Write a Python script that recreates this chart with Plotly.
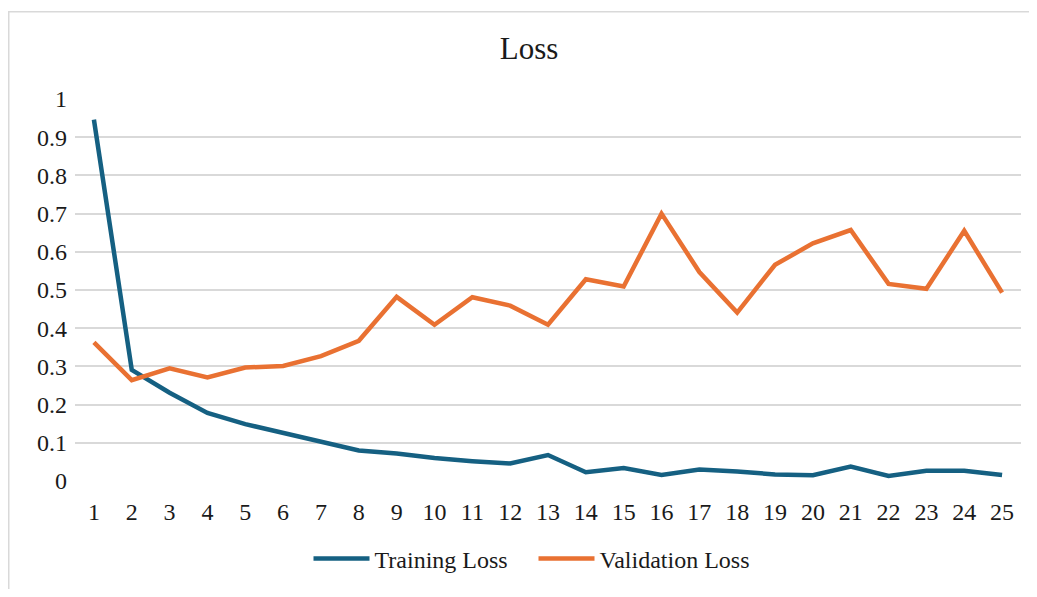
import plotly.graph_objects as go

epochs = list(range(1, 26))
training_loss = [0.946, 0.291, 0.231, 0.178, 0.149, 0.127, 0.102, 0.080, 0.072, 0.060,
                 0.052, 0.046, 0.068, 0.023, 0.034, 0.016, 0.030, 0.025, 0.017, 0.015,
                 0.038, 0.013, 0.027, 0.027, 0.016]
validation_loss = [0.363, 0.264, 0.295, 0.271, 0.297, 0.301, 0.327, 0.367, 0.482, 0.409,
                   0.481, 0.459, 0.409, 0.528, 0.509, 0.700, 0.547, 0.441, 0.566, 0.622,
                   0.657, 0.516, 0.503, 0.655, 0.493]
y_ticks = [0, 0.1, 0.2, 0.3, 0.4, 0.5, 0.6, 0.7, 0.8, 0.9, 1]
y_tick_labels = ["0", "0.1", "0.2", "0.3", "0.4", "0.5", "0.6", "0.7", "0.8", "0.9", "1"]

# page has an 8px body margin; figure coordinates = page coordinates - 8
OFF = 8
W, H = 1021, 581
L, R, T, B = 75 - OFF, W - (1021 - OFF), 99 - OFF, H - (486 - OFF)
pw, ph = W - L - R, H - T - B

font_family = "Liberation Serif, Times New Roman, serif"

fig = go.Figure()
fig.add_trace(go.Scatter(x=epochs, y=training_loss, mode="lines", name="Training Loss",
                         line=dict(color="#156082", width=4.5)))
fig.add_trace(go.Scatter(x=epochs, y=validation_loss, mode="lines", name="Validation Loss",
                         line=dict(color="#E97132", width=4.5)))

fig.update_layout(
    width=W, height=H,
    margin=dict(l=L, r=R, t=T, b=B),
    paper_bgcolor="white", plot_bgcolor="white",
    font=dict(family=font_family, color="#1a1a1a", size=24),
    title=dict(text="Loss", x=(529 - OFF) / W, xref="container", xanchor="center",
               y=1 - (48 - OFF) / H, yref="container", yanchor="middle",
               font=dict(size=31, family=font_family, color="#1a1a1a")),
    showlegend=True,
    legend=dict(orientation="h", x=(533.5 - OFF - L) / pw, xanchor="center",
                y=(H - B - (565 - OFF)) / ph, yanchor="middle",
                font=dict(size=24, family=font_family), itemwidth=56,
                entrywidth=154, entrywidthmode="pixels",
                bgcolor="rgba(0,0,0,0)"),
    xaxis=dict(range=[0.5, 25.5], tickmode="array", tickvals=epochs,
               ticktext=[str(e) for e in epochs], showgrid=False, zeroline=False,
               showline=False, ticks="", ticklabelstandoff=14, fixedrange=True,
               domain=[0, 1]),
    yaxis=dict(range=[0, 1], tickmode="array", tickvals=y_ticks, ticktext=y_tick_labels,
               showgrid=True, gridcolor="#d9d9d9", gridwidth=1.5, zeroline=False,
               showline=False, ticks="", ticklabelstandoff=15, fixedrange=True,
               anchor="free", position=7 / pw),
    shapes=[dict(type="rect", xref="paper", yref="paper",
                 x0=(0.75 - L) / pw, x1=(W + 20 - L) / pw,
                 y0=(H - B - (H + 20)) / ph, y1=(H - B - (10.5 - OFF)) / ph,
                 line=dict(color="#d9d9d9", width=1.5), layer="below")],
)

fig.write_html("out.html")
